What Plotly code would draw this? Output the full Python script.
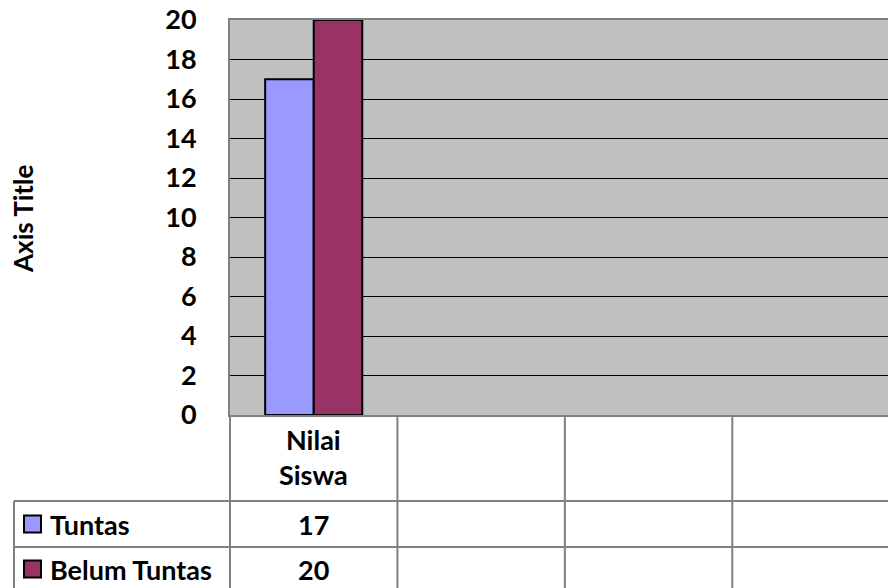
import plotly.graph_objects as go

# ---- data ----
categories = ["Nilai Siswa", "", "", ""]
series_names = ["Tuntas", "Belum Tuntas"]
tuntas = [17, None, None, None]
belum_tuntas = [20, None, None, None]
series_values = [tuntas, belum_tuntas]
series_colors = ["#9999FF", "#993366"]
y_ticks = list(range(0, 21, 2))
axis_title = "Axis Title"

# ---- geometry (window pixels; body margin removed below) ----
W, H = 888, 588
L, R, T, B = 230, 888, 20, 415
x_r0, x_r1 = -0.5, 3.43
FONT = "Lato"
FS = 27

def xp(px):
    return (px - L) / (R - L)

def yp(py):
    return (B - py) / (B - T)

def xcat(v):
    return (v - x_r0) / (x_r1 - x_r0)

xs = list(range(len(categories)))

fig = go.Figure()
for name, vals, col in zip(series_names, series_values, series_colors):
    fig.add_trace(go.Bar(
        x=xs, y=vals, name=name,
        marker=dict(color=col, line=dict(color="black", width=2)),
        showlegend=False,
    ))

grid_col = "#808080"
shapes = []
row1_top, row2_top, bottom = 501, 547, 600
tbl_left = 14

def line(x0, y0, x1, y1):
    shapes.append(dict(type="line", xref="paper", yref="paper",
                       x0=x0, y0=y0, x1=x1, y1=y1,
                       line=dict(color=grid_col, width=2), layer="above"))

# horizontal table lines
line(xp(tbl_left), yp(row1_top), 1.02, yp(row1_top))
line(xp(tbl_left), yp(row2_top), 1.02, yp(row2_top))
# vertical table lines
line(xp(tbl_left), yp(row1_top), xp(tbl_left), yp(bottom))
line(0, 0, 0, yp(bottom))
for k in range(len(categories) - 1):
    xv = xcat(k + 0.5)
    line(xv, 0, xv, yp(bottom))

# legend keys
row_centers = [524, 569]
for col, yc in zip(series_colors, row_centers):
    shapes.append(dict(type="rect", xref="paper", yref="paper",
                       x0=xp(24), x1=xp(41), y0=yp(yc - 8.5), y1=yp(yc + 8.5),
                       fillcolor=col, line=dict(color="black", width=2)))

annotations = []
font = dict(family=FONT, size=FS, color="black", weight="bold")
# header
for k, c in enumerate(categories):
    if c:
        annotations.append(dict(xref="x", yref="paper", x=k, y=yp(457),
                                text="<br>".join(c.split(" ")), showarrow=False,
                                font=font, xanchor="center", yanchor="middle"))
# row labels & values
for name, vals, yc in zip(series_names, series_values, row_centers):
    annotations.append(dict(xref="paper", yref="paper", x=xp(48), y=yp(yc),
                            text=name, showarrow=False, font=font,
                            xanchor="left", yanchor="middle"))
    for k, v in enumerate(vals):
        if v is not None:
            annotations.append(dict(xref="x", yref="paper", x=k, y=yp(yc),
                                    text=str(v), showarrow=False, font=font,
                                    xanchor="center", yanchor="middle"))
# axis title
annotations.append(dict(xref="paper", yref="paper", x=xp(23), y=yp(219),
                        text=axis_title, textangle=-90, showarrow=False,
                        font=dict(family=FONT, size=26, color="black", weight="bold"),
                        xanchor="center", yanchor="middle"))

fig.update_layout(
    width=W, height=H, autosize=False,
    margin=dict(l=L, r=W - R, t=T, b=H - B, pad=0, autoexpand=False),
    paper_bgcolor="white", plot_bgcolor="#C0C0C0",
    barmode="group", bargap=0.42, bargroupgap=0,
    shapes=shapes, annotations=annotations,
    xaxis=dict(range=[x_r0, x_r1], showticklabels=False, showgrid=False,
               zeroline=False, showline=True, linecolor=grid_col, linewidth=2,
               mirror=True, ticks="", automargin=False),
    yaxis=dict(range=[0, 20], tickvals=y_ticks, showgrid=True, gridcolor="black",
               gridwidth=1, zeroline=False, showline=True, linecolor=grid_col,
               linewidth=2, ticks="outside", ticklen=26, tickcolor="rgba(0,0,0,0)",
               tickfont=font, ticklabeloverflow="allow", automargin=False),
)

fig.write_html("out.html", config={"displayModeBar": False},
               post_script="document.body.style.margin='0';document.body.style.overflow='hidden';")
